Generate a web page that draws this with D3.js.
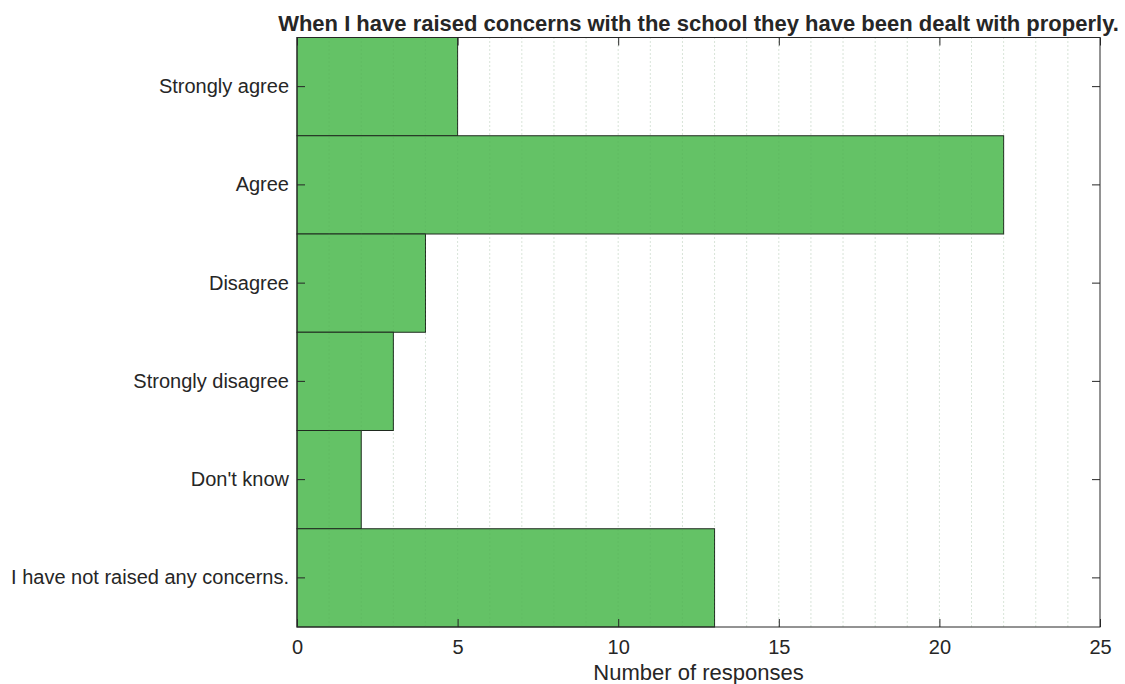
<!DOCTYPE html>
<html><head><meta charset="utf-8">
<script src="https://cdn.jsdelivr.net/npm/d3@7"></script>
<style>body{margin:0;background:#fff}svg{display:block}text{font-family:"Liberation Sans",Arial,sans-serif;fill:#262626}</style>
</head><body>
<svg id="c" width="1125" height="684"></svg>
<script>
const categories = ["Strongly agree","Agree","Disagree","Strongly disagree","Don't know","I have not raised any concerns."];
const values = [5,22,4,3,2,13];
const xTicks = [0,5,10,15,20,25];
const title = "When I have raised concerns with the school they have been dealt with properly.";
const xLabel = "Number of responses";

const svg = d3.select("#c");
const L=297, R=1100, T=37.5, B=627;
const x = d3.scaleLinear().domain([0,25]).range([L,R]);
const y = d3.scaleBand().domain(categories).range([T,B]).padding(0);

// minor grid
svg.append("g").selectAll("line").data(d3.range(1,25)).join("line")
  .attr("x1",d=>x(d)).attr("x2",d=>x(d)).attr("y1",T).attr("y2",B)
  .attr("stroke","#e3e3e3").attr("stroke-width",1).attr("stroke-dasharray","1,3");

// bars
svg.append("g").selectAll("rect").data(values).join("rect")
  .attr("x",x(0)).attr("y",(d,i)=>y(categories[i]))
  .attr("width",d=>x(d)-x(0)).attr("height",y.bandwidth())
  .attr("fill","#64c266").attr("stroke","#1f2a1f").attr("stroke-width",1);

// grid over bars faintly
svg.append("g").selectAll("line").data(d3.range(1,25)).join("line")
  .attr("x1",d=>x(d)).attr("x2",d=>x(d)).attr("y1",T).attr("y2",B)
  .attr("stroke","#4f9e52").attr("stroke-opacity",0.3).attr("stroke-width",1).attr("stroke-dasharray","1,3");

// box
svg.append("rect").attr("x",L).attr("y",T).attr("width",R-L).attr("height",B-T)
  .attr("fill","none").attr("stroke","#262626").attr("stroke-width",1);

// axes
const tl=8;
const xb = svg.append("g").attr("transform",`translate(0,${B})`)
  .call(d3.axisBottom(x).tickValues(xTicks).tickSize(-tl).tickPadding(13).tickFormat(d3.format("d")));
const xt = svg.append("g").attr("transform",`translate(0,${T})`)
  .call(d3.axisTop(x).tickValues(xTicks).tickSize(-tl).tickFormat(""));
const yl = svg.append("g").attr("transform",`translate(${L},0)`)
  .call(d3.axisLeft(y).tickSize(-tl).tickPadding(16));
const yr = svg.append("g").attr("transform",`translate(${R},0)`)
  .call(d3.axisRight(y).tickSize(-tl).tickFormat(""));
[xb,xt,yl,yr].forEach(g=>{
  g.select(".domain").remove();
  g.selectAll("line").attr("stroke","#262626");
  g.selectAll("text").style("font-size","20px").attr("fill","#262626");
});
yl.selectAll(".tick text").attr("dx",8);

svg.append("text").attr("x",(L+R)/2).attr("y",31).attr("text-anchor","middle")
  .style("font-size","22px").style("font-weight","bold").text(title);
svg.append("text").attr("x",(L+R)/2).attr("y",680).attr("text-anchor","middle")
  .style("font-size","22px").text(xLabel);
</script>
</body></html>
